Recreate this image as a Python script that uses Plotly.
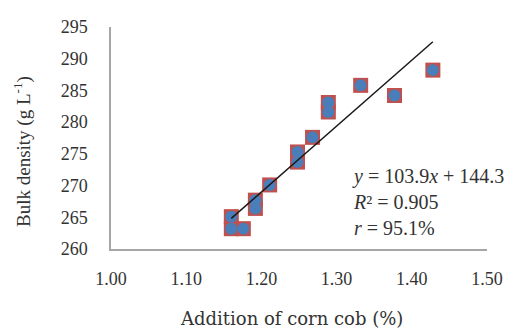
import plotly.graph_objects as go

# Data
addition = [1.16, 1.16, 1.176, 1.192, 1.192, 1.211, 1.248, 1.248, 1.268, 1.289, 1.289, 1.332, 1.377, 1.428]
density = [265.1, 263.2, 263.2, 267.7, 266.4, 270.1, 275.3, 273.7, 277.6, 283.1, 281.6, 285.8, 284.2, 288.2]

slope = 103.9
intercept = 144.3
eq_text = "<i>y</i> = 103.9<i>x</i> + 144.3<br><i>R</i>² = 0.905<br><i>r</i> = 95.1%"
x_title = "Addition of corn cob (%)"
y_title = "Bulk density (g L<sup>-1</sup>)"

x_ticks = [1.0, 1.1, 1.2, 1.3, 1.4, 1.5]
x_tick_labels = ["1.00", "1.10", "1.20", "1.30", "1.40", "1.50"]
y_ticks = [260, 265, 270, 275, 280, 285, 290, 295]

fit_x = [min(addition), max(addition)]
fit_y = [slope * v + intercept for v in fit_x]

fig = go.Figure()
fig.add_trace(go.Scatter(x=addition, y=density, mode="markers",
                         marker=dict(symbol="square", size=15, color="#c0504d",
                                     line=dict(width=0)),
                         showlegend=False, hoverinfo="skip"))
fig.add_trace(go.Scatter(x=addition, y=density, mode="markers",
                         marker=dict(symbol="circle", size=12, color="#4a7ebb",
                                     line=dict(width=0)),
                         showlegend=False))
fig.add_trace(go.Scatter(x=fit_x, y=fit_y, mode="lines",
                         line=dict(color="#1a1a1a", width=1.5),
                         showlegend=False))

serif = "Liberation Serif, Nimbus Roman, FreeSerif, DejaVu Serif"
fig.add_annotation(x=1.318, y=267.4, xref="x", yref="y", text=eq_text,
                   showarrow=False, xanchor="left", yanchor="middle", align="left",
                   font=dict(family=serif, size=20, color="#333333"))
fig.add_annotation(x=0.481, y=-0.311, xref="paper", yref="paper", text=x_title,
                   showarrow=False, xanchor="center", yanchor="middle",
                   font=dict(family="DejaVu Serif", size=18, color="#333333"))
fig.add_annotation(x=-0.237, y=0.441, xref="paper", yref="paper", text=y_title,
                   showarrow=False, xanchor="center", yanchor="middle", textangle=-90,
                   font=dict(family=serif, size=19, color="#333333"))

fig.update_layout(
    width=510, height=326,
    margin=dict(l=103, r=31, t=19, b=85),
    paper_bgcolor="white", plot_bgcolor="white",
    xaxis=dict(range=[1.0, 1.5], tickvals=x_ticks, ticktext=x_tick_labels,
               showgrid=False, zeroline=False, showline=True, automargin=False,
               linecolor="#a6a6a6", linewidth=1.5, ticks="", ticklabelstandoff=13,
               tickfont=dict(family=serif, size=18, color="#333333")),
    yaxis=dict(range=[260, 295], tickvals=y_ticks,
               showgrid=False, zeroline=False, showline=True, automargin=False,
               linecolor="#a6a6a6", linewidth=1.5, ticks="", ticklabelstandoff=18,
               tickfont=dict(family=serif, size=18, color="#333333")),
)

fig.write_html("out.html")
